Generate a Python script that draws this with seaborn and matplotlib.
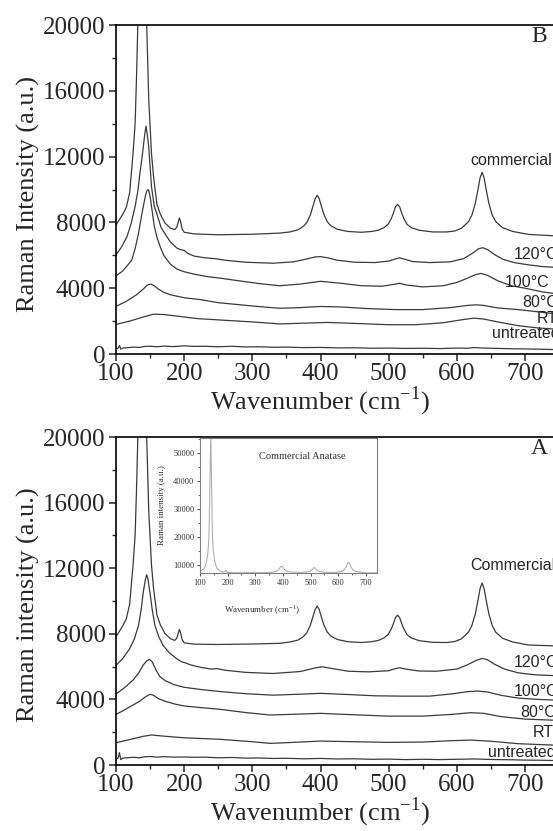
"""
Raman spectra of TiO2 samples, two stacked panels (B on top, A below)
with an inset showing the full commercial anatase spectrum.
"""

import matplotlib
matplotlib.use("Agg")
import matplotlib.pyplot as plt
from matplotlib.ticker import MultipleLocator
import seaborn as sns

sns.set_style("ticks")
plt.rcParams["font.family"] = ["Liberation Serif", "DejaVu Serif"]
plt.rcParams["mathtext.fontset"] = "custom"
plt.rcParams["mathtext.rm"] = "Liberation Serif"

# ---- panel B (top) ---------------------------------------------------------
b_comm_x = [100, 110, 115, 120, 125, 128, 130, 132, 134, 136, 139, 142, 145, 148, 152, 155, 160, 165, 172, 180,
            186, 189, 191, 193, 195, 197, 200, 215, 250, 300, 340, 355, 367, 375, 380, 385, 389, 392, 395, 398,
            401, 405, 410, 415, 425, 440, 460, 475, 485, 493, 499, 504, 507, 510, 513, 516, 519, 522, 527, 533,
            545, 565, 585, 597, 607, 617, 622, 627, 631, 634, 637, 640, 643, 647, 652, 657, 667, 682, 705, 750]
b_comm_y = [7840, 8500, 8900, 9800, 12200, 14000, 16700, 20000, 28500, 40000, 57000, 38000, 20000, 15500, 12200,
            10800, 9100, 8500, 7950, 7650, 7560, 7700, 7980, 8270, 8000, 7600, 7400, 7300, 7250, 7280, 7350, 7420,
            7550, 7770, 8000, 8450, 9000, 9420, 9650, 9450, 9020, 8480, 8040, 7800, 7580, 7450, 7400, 7450, 7530,
            7680, 7880, 8250, 8580, 8950, 9100, 8950, 8580, 8250, 7880, 7680, 7520, 7420, 7420, 7480, 7650, 8040,
            8440, 9150, 10000, 10700, 11050, 10700, 10000, 9150, 8440, 8050, 7680, 7450, 7270, 7170]

b_120_x = [100, 108, 116, 122, 128, 132, 135, 138, 140, 142, 144, 146, 148, 150, 152, 156, 160, 166, 172, 180,
           190, 196, 200, 206, 215, 230, 245, 260, 290, 330, 360, 380, 392, 400, 410, 425, 450, 480, 500, 510,
           516, 522, 535, 560, 590, 610, 622, 632, 638, 645, 655, 668, 685, 705, 725, 750]
b_120_y = [6020, 6500, 7130, 7900, 8960, 9900, 10980, 11900, 12600, 13300, 13860, 13300, 12600, 11400, 10200,
           9000, 8500, 7700, 7300, 6800, 6420, 6330, 6300, 6100, 5950, 5850, 5800, 5700, 5580, 5520, 5600, 5780,
           5900, 5920, 5850, 5700, 5580, 5560, 5650, 5780, 5850, 5780, 5620, 5560, 5600, 5800, 6100, 6400, 6460,
           6350, 6050, 5750, 5550, 5420, 5320, 5250]

b_100_x = [100, 110, 118, 123, 128, 133, 137, 140, 143, 145, 147, 149, 151, 153, 156, 160, 165, 170, 180, 190,
           200, 215, 235, 255, 280, 310, 340, 370, 400, 430, 460, 490, 510, 516, 525, 550, 580, 600, 615, 627,
           635, 645, 660, 680, 700, 725, 750]
b_100_y = [4750, 5050, 5450, 5700, 6400, 7340, 8300, 8960, 9600, 9900, 10000, 9800, 9300, 8700, 7800, 7100, 6500,
           6000, 5450, 5150, 5000, 4850, 4700, 4600, 4450, 4280, 4150, 4250, 4420, 4300, 4150, 4120, 4250, 4300,
           4200, 4080, 4150, 4350, 4600, 4820, 4900, 4780, 4450, 4150, 4000, 3780, 3640]

b_80_x = [100, 115, 130, 140, 146, 151, 156, 162, 170, 180, 200, 225, 250, 300, 340, 370, 400, 430, 470, 510,
          550, 590, 615, 628, 640, 660, 690, 720, 750]
b_80_y = [2900, 3200, 3600, 3950, 4200, 4250, 4150, 3950, 3750, 3600, 3420, 3300, 3120, 2920, 2780, 2820, 2890,
          2860, 2760, 2700, 2700, 2820, 2950, 2990, 2950, 2800, 2700, 2560, 2420]

b_rt_x = [100, 120, 140, 155, 170, 190, 220, 260, 300, 340, 380, 410, 450, 500, 540, 580, 610, 625, 640, 660,
          690, 720, 750]
b_rt_y = [1800, 2000, 2250, 2420, 2400, 2300, 2150, 2050, 1950, 1830, 1880, 1920, 1860, 1780, 1780, 1900, 2100,
          2180, 2120, 1950, 1720, 1580, 1500]

b_un_x = [100, 103, 105, 107, 110, 118, 126, 134, 142, 150, 160, 170, 185, 200, 215, 230, 250, 270, 290, 310,
          330, 350, 375, 400, 425, 450, 475, 500, 525, 550, 575, 600, 615, 625, 640, 660, 680, 700, 725, 750]
b_un_y = [320, 350, 520, 300, 360, 390, 420, 400, 460, 470, 440, 480, 450, 500, 460, 470, 440, 470, 430, 440,
          410, 420, 390, 400, 370, 380, 350, 360, 340, 350, 330, 360, 350, 390, 360, 340, 320, 310, 290, 260]

b_labels = ["commercial", "120°C", "100°C", "80°C", "RT", "untreated"]
b_label_x = [620, 684, 670, 696, 717, 651]
b_label_y = [11500, 5760, 4080, 2830, 1860, 970]

# ---- panel A (bottom) ------------------------------------------------------
a_comm_x = b_comm_x
a_comm_y = [7820, 8500, 8900, 9800, 12200, 14000, 16700, 20000, 28500, 40000, 57000, 38000, 20000, 15500, 12200,
            10800, 9150, 8550, 8000, 7700, 7600, 7720, 8000, 8270, 8020, 7650, 7450, 7370, 7350, 7380, 7420, 7500,
            7620, 7840, 8070, 8520, 9060, 9470, 9690, 9490, 9060, 8530, 8100, 7870, 7650, 7520, 7470, 7520, 7600,
            7750, 7950, 8310, 8640, 8990, 9140, 8990, 8640, 8310, 7950, 7750, 7580, 7480, 7470, 7530, 7700, 8100,
            8500, 9200, 10050, 10750, 11100, 10750, 10050, 9200, 8500, 8100, 7730, 7500, 7320, 7250]

a_120_x = [100, 110, 120, 127, 133, 137, 140, 143, 145, 147, 150, 153, 157, 163, 169, 178, 189, 196, 200, 210,
           225, 240, 248, 260, 290, 330, 370, 392, 402, 415, 440, 470, 500, 510, 516, 525, 545, 570, 600, 615,
           627, 637, 645, 655, 670, 690, 715, 750]
a_120_y = [6080, 6500, 7090, 7700, 8520, 9500, 10550, 11300, 11600, 11300, 10450, 9500, 8520, 7800, 7300, 6850,
           6480, 6300, 6250, 6100, 5950, 5850, 5880, 5780, 5650, 5580, 5700, 5920, 5990, 5900, 5720, 5680, 5750,
           5880, 5930, 5850, 5730, 5720, 5850, 6100, 6350, 6500, 6420, 6150, 5850, 5620, 5500, 5440]

a_100_x = [100, 112, 125, 133, 140, 145, 149, 153, 158, 164, 172, 185, 200, 225, 255, 290, 330, 370, 400, 440,
           480, 520, 560, 595, 615, 630, 645, 665, 690, 720, 750]
a_100_y = [4330, 4700, 5180, 5600, 6100, 6350, 6440, 6300, 5850, 5400, 5150, 4900, 4740, 4600, 4470, 4350, 4260,
           4320, 4370, 4300, 4220, 4200, 4200, 4350, 4470, 4510, 4450, 4250, 4080, 4000, 3950]

a_80_x = [100, 112, 125, 135, 143, 148, 151, 155, 162, 174, 188, 200, 225, 252, 290, 326, 365, 400, 440, 500,
          550, 590, 620, 640, 665, 700, 750]
a_80_y = [3090, 3350, 3660, 3900, 4150, 4280, 4310, 4250, 4050, 3860, 3700, 3600, 3500, 3400, 3200, 3050, 3100,
          3150, 3080, 2980, 2980, 3080, 3190, 3150, 2950, 2800, 2720]

a_rt_x = [100, 120, 140, 152, 170, 200, 252, 300, 326, 360, 400, 450, 500, 550, 590, 620, 650, 690, 750]
a_rt_y = [1360, 1550, 1750, 1830, 1760, 1660, 1570, 1420, 1320, 1380, 1460, 1420, 1380, 1400, 1480, 1520, 1450,
          1300, 1200]

a_un_x = b_un_x
a_un_y = [350, 420, 750, 330, 420, 450, 470, 440, 500, 520, 480, 510, 480, 490, 470, 480, 440, 460, 420, 430,
          400, 410, 380, 400, 370, 380, 350, 360, 330, 350, 330, 350, 360, 370, 350, 330, 320, 300, 290, 270]

a_labels = ["Commercial", "120°C", "100°C", "80°C", "RT", "untreated"]
a_label_x = [619, 683, 683, 693, 712, 646]
a_label_y = [11920, 5990, 4200, 2940, 1690, 470]

x_ticks = [100, 200, 300, 400, 500, 600, 700, 800]
y_ticks = [0, 4000, 8000, 12000, 16000, 20000]
inset_y_ticks = [10000, 20000, 30000, 40000, 50000]
inset_x_ticks = [100, 200, 300, 400, 500, 600, 700]

LINE = "#3a3a3a"
SANS = "Liberation Sans"


def _draw_panel(ax, curves, labels, lab_x, lab_y, letter, ylabel, ylab_y):
    for xs, ys in curves:
        sns.lineplot(x=xs, y=ys, ax=ax, color=LINE, linewidth=0.9,
                     estimator=None, sort=False, legend=False)
    for s, x, y in zip(labels, lab_x, lab_y):
        ax.text(x, y, s, family=SANS, fontsize=11.5, ha="left", va="baseline")
    ax.text(709, 18950, letter, fontsize=17, ha="left", va="baseline")

    ax.set_xlim(100, 800)
    ax.set_ylim(0, 20000)
    ax.set_xticks(x_ticks)
    ax.set_yticks(y_ticks)
    ax.xaxis.set_minor_locator(MultipleLocator(50))
    ax.yaxis.set_minor_locator(MultipleLocator(2000))
    ax.tick_params(which="major", direction="out", length=5, width=1.1, labelsize=18,
                   top=False, right=False)
    ax.tick_params(axis="x", which="major", pad=1.5)
    ax.tick_params(axis="y", which="major", pad=2.5)
    ax.tick_params(which="minor", direction="out", length=3, width=1.0, top=False, right=False)
    for side in ["left", "bottom", "top"]:
        ax.spines[side].set_linewidth(1.2)
        ax.spines[side].set_color("black")
    ax.spines["right"].set_visible(False)

    ax.set_xlabel(r"Wavenumber (cm$^{\mathregular{-1}}$)", fontsize=19)
    ax.set_ylabel(ylabel, fontsize=19)
    ax.xaxis.set_label_coords(0.4275, -0.093)
    ax.yaxis.set_label_coords(-0.16, ylab_y)


fig = plt.figure(figsize=(5.53, 8.31), dpi=100)

ax_b = fig.add_axes([0.2098, 0.5740, 0.8629, 0.3959])
_draw_panel(ax_b,
            [(b_comm_x, b_comm_y), (b_120_x, b_120_y), (b_100_x, b_100_y),
             (b_80_x, b_80_y), (b_rt_x, b_rt_y), (b_un_x, b_un_y)],
            b_labels, b_label_x, b_label_y, "B", "Raman Intensity (a.u.)", 0.485)

ax_a = fig.add_axes([0.2098, 0.0794, 0.8629, 0.3947])
_draw_panel(ax_a,
            [(a_comm_x, a_comm_y), (a_120_x, a_120_y), (a_100_x, a_100_y),
             (a_80_x, a_80_y), (a_rt_x, a_rt_y), (a_un_x, a_un_y)],
            a_labels, a_label_x, a_label_y, "A", "Raman intensity (a.u.)", 0.49)

# inset: full commercial anatase spectrum
ax_in = fig.add_axes([0.3617, 0.3105, 0.3200, 0.1625])
ax_in.set_facecolor("white")
sns.lineplot(x=a_comm_x, y=a_comm_y, ax=ax_in, color="#b0b0b0", linewidth=0.8,
             estimator=None, sort=False, legend=False)
ax_in.set_xlim(100, 740)
ax_in.set_ylim(7260, 55200)
ax_in.set_xticks(inset_x_ticks)
ax_in.set_yticks(inset_y_ticks)
ax_in.xaxis.set_minor_locator(MultipleLocator(50))
ax_in.yaxis.set_minor_locator(MultipleLocator(5000))
ax_in.tick_params(which="major", direction="out", length=2.5, width=0.6, labelsize=6,
                  pad=1.5, colors="#333333", top=False, right=False)
ax_in.tick_params(which="minor", direction="out", length=1.5, width=0.5, top=False, right=False)
for side in ax_in.spines.values():
    side.set_linewidth(0.8)
    side.set_color("#808080")
ax_in.text(314, 47750, "Commercial Anatase", fontsize=7.5, ha="left", va="baseline", color="#333333")
ax_in.set_xlabel(r"Wavenumber (cm$^{\mathregular{-1}}$)", fontsize=6.5, color="#333333")
ax_in.set_ylabel("Raman intensity (a.u.)", fontsize=6.5, color="#333333")
ax_in.xaxis.set_label_coords(0.35, -0.225)
ax_in.yaxis.set_label_coords(-0.19, 0.5)

fig.savefig("out.png", dpi=100)
plt.close(fig)
